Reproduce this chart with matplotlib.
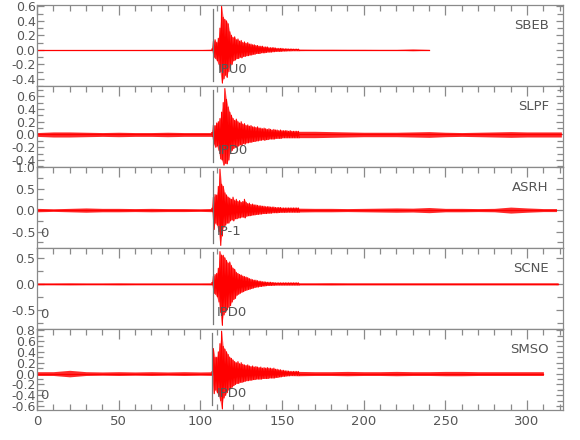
import numpy as np
import matplotlib
matplotlib.use("Agg")
import matplotlib.pyplot as plt
from matplotlib.ticker import MultipleLocator, FormatStrFormatter

# ---------------- data ----------------
stations = ["SBEB", "SLPF", "ASRH", "SCNE", "SMSO"]
pick_labels = ["IPU0", "IPD0", "IP-1", "IPD0", "IPD0"]
show_zero_mark = [False, False, True, True, True]
p_times = [108.0, 108.0, 107.5, 107.5, 107.3]
record_end = [240, 321, 318, 319, 310]
ylims = [(-0.5, 0.62), (-0.51, 0.76), (-0.88, 1.0), (-0.87, 0.69), (-0.67, 0.82)]
y_major = [0.2, 0.2, 0.5, 0.5, 0.2]
y_minor = [0.1, 0.1, 0.25, 0.25, 0.1]

# background noise half-width, every 10 s from t=0
noise_times = list(range(0, 330, 10))
noise_sbeb = [0.004, 0.004, 0.004, 0.004, 0.004, 0.004, 0.004, 0.004, 0.004, 0.004, 0.004,
              0.01, 0.01, 0.01, 0.01, 0.01, 0.01, 0.008, 0.008, 0.007, 0.007, 0.006, 0.006, 0.012, 0.006]
noise_slpf = [0.03, 0.04, 0.04, 0.035, 0.03, 0.035, 0.03, 0.03, 0.035, 0.03, 0.03,
              0.03, 0.05, 0.05, 0.05, 0.05, 0.05, 0.05, 0.045, 0.04, 0.035, 0.035, 0.035,
              0.04, 0.045, 0.035, 0.03, 0.035, 0.04, 0.045, 0.04, 0.04, 0.04]
noise_asrh = [0.04, 0.03, 0.04, 0.05, 0.04, 0.04, 0.035, 0.04, 0.035, 0.035, 0.03,
              0.04, 0.04, 0.04, 0.04, 0.04, 0.045, 0.04, 0.04, 0.035, 0.04, 0.045, 0.05,
              0.045, 0.06, 0.04, 0.04, 0.035, 0.04, 0.07, 0.05, 0.035]
noise_scne = [0.018, 0.018, 0.02, 0.018, 0.018, 0.02, 0.018, 0.018, 0.018, 0.018, 0.018,
              0.02, 0.02, 0.02, 0.02, 0.02, 0.02, 0.02, 0.022, 0.02, 0.02, 0.02, 0.02,
              0.02, 0.02, 0.02, 0.02, 0.02, 0.02, 0.02, 0.02, 0.02]
noise_smso = [0.035, 0.035, 0.06, 0.035, 0.03, 0.035, 0.03, 0.035, 0.03, 0.035, 0.03,
              0.035, 0.04, 0.04, 0.04, 0.035, 0.04, 0.035, 0.035, 0.04, 0.035, 0.035, 0.04,
              0.035, 0.035, 0.04, 0.04, 0.035, 0.035, 0.035, 0.035, 0.035]
noise_all = [noise_sbeb, noise_slpf, noise_asrh, noise_scne, noise_smso]

# burst: max / min per 1-s window from t = 107 s
burst_times = list(range(107, 161))
hi_sbeb = [0.01, 0.12, 0.14, 0.10, 0.16, 0.30, 0.60, 0.45, 0.42, 0.40, 0.36, 0.25, 0.20, 0.17,
           0.18, 0.14, 0.15, 0.12, 0.13, 0.10, 0.11, 0.09, 0.10, 0.08, 0.08, 0.07, 0.07, 0.06,
           0.06, 0.05, 0.05, 0.05, 0.04, 0.04, 0.04, 0.03, 0.03, 0.03, 0.03, 0.025, 0.02, 0.02,
           0.02, 0.02, 0.015, 0.015, 0.015, 0.012, 0.012, 0.012, 0.01, 0.01, 0.01, 0.01]
lo_sbeb = [-0.01, -0.10, -0.12, -0.15, -0.20, -0.30, -0.46, -0.40, -0.35, -0.38, -0.30, -0.22,
           -0.20, -0.15, -0.14, -0.12, -0.12, -0.10, -0.11, -0.09, -0.09, -0.08, -0.08, -0.07,
           -0.07, -0.06, -0.06, -0.05, -0.05, -0.05, -0.04, -0.04, -0.04, -0.035, -0.03, -0.03,
           -0.03, -0.025, -0.025, -0.02, -0.02, -0.02, -0.02, -0.015, -0.015, -0.015, -0.012,
           -0.012, -0.012, -0.01, -0.01, -0.01, -0.01, -0.01]
hi_slpf = [0.03, 0.15, 0.14, 0.18, 0.20, 0.25, 0.35, 0.50, 0.72, 0.55, 0.43, 0.35, 0.30, 0.25,
           0.22, 0.24, 0.20, 0.18, 0.20, 0.16, 0.17, 0.14, 0.15, 0.13, 0.14, 0.12, 0.12, 0.11,
           0.12, 0.10, 0.10, 0.09, 0.10, 0.09, 0.08, 0.09, 0.08, 0.07, 0.08, 0.07, 0.07, 0.06,
           0.07, 0.06, 0.06, 0.06, 0.06, 0.05, 0.06, 0.05, 0.05, 0.05, 0.05, 0.05]
lo_slpf = [-0.03, -0.15, -0.20, -0.18, -0.25, -0.38, -0.40, -0.48, -0.45, -0.46, -0.40, -0.30,
           -0.25, -0.22, -0.20, -0.20, -0.18, -0.16, -0.17, -0.14, -0.15, -0.13, -0.13, -0.12,
           -0.12, -0.11, -0.11, -0.10, -0.10, -0.09, -0.09, -0.08, -0.09, -0.08, -0.08, -0.07,
           -0.07, -0.07, -0.07, -0.06, -0.06, -0.06, -0.06, -0.05, -0.05, -0.05, -0.05, -0.05,
           -0.05, -0.05, -0.05, -0.05, -0.05, -0.05]
hi_asrh = [0.04, 0.30, 0.36, 0.35, 0.55, 0.95, 0.60, 0.55, 0.40, 0.35, 0.30, 0.28, 0.25, 0.30,
           0.22, 0.25, 0.20, 0.22, 0.18, 0.20, 0.25, 0.18, 0.15, 0.16, 0.13, 0.14, 0.12, 0.12,
           0.11, 0.10, 0.10, 0.09, 0.09, 0.08, 0.08, 0.08, 0.07, 0.07, 0.07, 0.06, 0.06, 0.06,
           0.06, 0.05, 0.05, 0.05, 0.05, 0.05, 0.05, 0.05, 0.05, 0.05, 0.05, 0.05]
lo_asrh = [-0.04, -0.45, -0.30, -0.35, -0.50, -0.82, -0.60, -0.40, -0.35, -0.30, -0.30, -0.25,
           -0.22, -0.25, -0.20, -0.20, -0.18, -0.18, -0.16, -0.16, -0.18, -0.14, -0.13, -0.13,
           -0.12, -0.11, -0.11, -0.10, -0.10, -0.09, -0.09, -0.08, -0.08, -0.08, -0.07, -0.07,
           -0.07, -0.06, -0.06, -0.06, -0.06, -0.055, -0.05, -0.05, -0.05, -0.05, -0.045, -0.045,
           -0.045, -0.045, -0.045, -0.045, -0.045, -0.045]
hi_scne = [0.02, 0.15, 0.18, 0.20, 0.30, 0.62, 0.55, 0.55, 0.50, 0.45, 0.40, 0.42, 0.35, 0.30,
           0.28, 0.22, 0.20, 0.18, 0.17, 0.15, 0.14, 0.13, 0.12, 0.10, 0.09, 0.08, 0.07, 0.07,
           0.06, 0.05, 0.05, 0.04, 0.04, 0.035, 0.03, 0.03, 0.03, 0.025, 0.025, 0.02, 0.02, 0.02,
           0.02, 0.02, 0.02, 0.02, 0.02, 0.02, 0.02, 0.02, 0.02, 0.02, 0.02, 0.02]
lo_scne = [-0.02, -0.18, -0.20, -0.25, -0.35, -0.55, -0.80, -0.60, -0.55, -0.50, -0.45, -0.42,
           -0.35, -0.30, -0.28, -0.22, -0.20, -0.18, -0.16, -0.15, -0.13, -0.12, -0.11, -0.10,
           -0.09, -0.08, -0.07, -0.06, -0.06, -0.05, -0.05, -0.04, -0.04, -0.035, -0.03, -0.03,
           -0.03, -0.025, -0.025, -0.02, -0.02, -0.02, -0.02, -0.02, -0.02, -0.02, -0.02, -0.02,
           -0.02, -0.02, -0.02, -0.02, -0.02, -0.02]
hi_smso = [0.03, 0.46, 0.30, 0.30, 0.40, 0.55, 0.78, 0.50, 0.45, 0.40, 0.35, 0.30, 0.28, 0.25,
           0.22, 0.20, 0.22, 0.18, 0.20, 0.17, 0.16, 0.15, 0.16, 0.14, 0.13, 0.14, 0.12, 0.13,
           0.12, 0.11, 0.12, 0.10, 0.11, 0.10, 0.11, 0.10, 0.10, 0.09, 0.10, 0.08, 0.08, 0.07,
           0.07, 0.06, 0.06, 0.05, 0.05, 0.045, 0.04, 0.04, 0.04, 0.04, 0.04, 0.04]
lo_smso = [-0.03, -0.37, -0.30, -0.35, -0.40, -0.50, -0.65, -0.45, -0.40, -0.35, -0.30, -0.28,
           -0.25, -0.22, -0.20, -0.18, -0.18, -0.16, -0.16, -0.15, -0.14, -0.13, -0.13, -0.12,
           -0.12, -0.11, -0.11, -0.10, -0.10, -0.10, -0.10, -0.09, -0.09, -0.09, -0.09, -0.08,
           -0.08, -0.08, -0.08, -0.07, -0.07, -0.06, -0.06, -0.05, -0.05, -0.045, -0.04, -0.04,
           -0.035, -0.035, -0.035, -0.035, -0.035, -0.035]
hi_all = [hi_sbeb, hi_slpf, hi_asrh, hi_scne, hi_smso]
lo_all = [lo_sbeb, lo_slpf, lo_asrh, lo_scne, lo_smso]

x_major_ticks = [0, 50, 100, 150, 200, 250, 300]

# ---------------- drawing ----------------
plt.rcParams['font.family'] = ['Liberation Sans Narrow', 'DejaVu Sans']
W, H = 580, 440
fig = plt.figure(figsize=(W / 100, H / 100), dpi=100)

axis_gray = "#8a8a8a"
text_gray = "#555555"
red = "#ff0000"

left_px, right_px = 37, 563
top_px, panel_px = 5, 81

for i, name in enumerate(stations):
    top = top_px + i * panel_px
    ax = fig.add_axes([left_px / W, 1 - (top + panel_px) / H,
                       (right_px - left_px) / W, panel_px / H])
    ax.set_xlim(0, 322)
    ax.set_ylim(*ylims[i])

    # noise band
    end = record_end[i]
    nt = [t for t in noise_times if t <= end]
    na = noise_all[i][:len(nt)]
    if nt[-1] < end:
        nt = nt + [end]
        na = na + [na[-1]]
    nt = np.array(nt, float)
    na = np.array(na, float)
    ax.fill_between(nt, -na, na, color="#ff2a2a", lw=0, zorder=2)
    ax.plot([nt[0], nt[-1]], [0, 0], color=red, lw=0.9, zorder=2)

    # burst: min/max per window, drawn as a zigzag
    bt = np.array(burst_times, float)
    hi = np.array(hi_all[i])
    lo = np.array(lo_all[i])
    ax.fill_between(bt, lo, hi, color="#ff6a6a", lw=0, zorder=2)
    zx = np.empty(2 * len(bt))
    zy = np.empty(2 * len(bt))
    zx[0::2] = bt
    zx[1::2] = bt + 0.5
    zy[0::2] = hi
    zy[1::2] = lo
    ax.plot(zx, zy, color=red, lw=0.8, zorder=3)

    # P pick line and labels
    ax.axvline(p_times[i], ymin=0.06, ymax=0.95, color="#777777", lw=0.9, zorder=4)
    ax.text(p_times[i] + 2.5, 0.2, pick_labels[i], transform=ax.get_xaxis_transform(),
            fontsize=9.5, color=text_gray, ha="left", va="center", zorder=5)
    if show_zero_mark[i]:
        ax.text(4.5, 0.18, "0", transform=ax.get_xaxis_transform(),
                fontsize=9.5, color=text_gray, ha="center", va="center", zorder=5)
    ax.text(0.973, 0.75, name, transform=ax.transAxes, fontsize=9.5,
            color=text_gray, ha="right", va="center", zorder=5)

    # axes styling
    for sp in ax.spines.values():
        sp.set_color(axis_gray)
        sp.set_linewidth(0.9)
    ax.xaxis.set_major_locator(MultipleLocator(50))
    ax.xaxis.set_minor_locator(MultipleLocator(10))
    ax.yaxis.set_major_locator(MultipleLocator(y_major[i]))
    ax.yaxis.set_minor_locator(MultipleLocator(y_minor[i]))
    last = (i == len(stations) - 1)
    ax.tick_params(axis="x", which="both", direction="in", top=True, bottom=last,
                   labelbottom=last, colors=axis_gray, labelcolor=text_gray,
                   labelsize=9.5, width=0.9)
    ax.tick_params(axis="x", which="major", length=7)
    ax.tick_params(axis="x", which="minor", length=4)
    ax.tick_params(axis="y", which="both", direction="in", left=True, right=True,
                   colors=axis_gray, labelcolor=text_gray, labelsize=9, width=0.9, pad=1)
    ax.tick_params(axis="y", which="major", length=5)
    ax.tick_params(axis="y", which="minor", length=4)
    if last:
        ax.set_xticks(x_major_ticks)
    ax.yaxis.set_major_formatter(FormatStrFormatter("%.1f"))

fig.savefig("out.png", dpi=100)
